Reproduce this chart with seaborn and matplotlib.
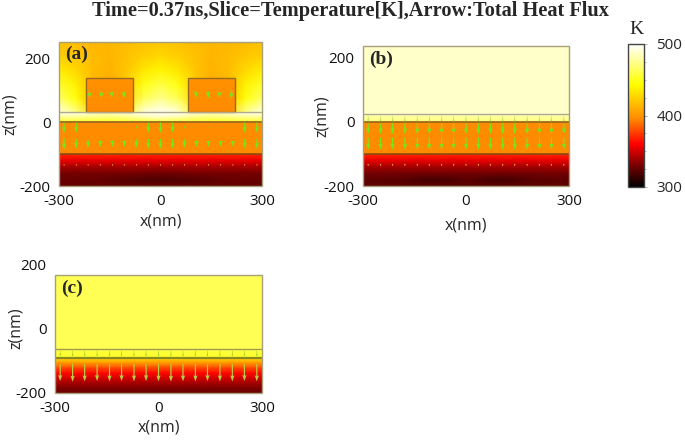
import numpy as np
import pandas as pd
import seaborn as sns
import matplotlib
matplotlib.use('Agg')
import matplotlib.pyplot as plt
from matplotlib.colors import LinearSegmentedColormap
from matplotlib.patches import Rectangle

W, H = 685, 443

# temperature [K], rows run top to bottom
a_air = [
    [418, 416, 414, 414, 416, 418, 420, 418, 416, 414, 414, 416, 418],
    [424, 420, 416, 414, 418, 424, 428, 424, 418, 414, 416, 420, 424],
    [436, 428, 416, 412, 420, 434, 440, 434, 420, 412, 416, 428, 436],
    [452, 438, 414, 408, 424, 448, 458, 448, 424, 408, 414, 438, 452],
    [466, 446, 412, 404, 430, 462, 474, 462, 430, 404, 412, 446, 466],
    [494, 474, 430, 420, 456, 492, 499, 492, 456, 420, 430, 474, 494],
]
a_gap = [
    [496, 494, 490, 488, 492, 498, 500, 498, 492, 488, 490, 494, 496],
    [478, 476, 472, 470, 474, 482, 486, 482, 474, 470, 472, 476, 478],
    [452, 452, 450, 450, 452, 454, 456, 454, 452, 450, 450, 452, 452],
]
pad = [[398, 398], [396, 396]]
etch = [[396, 396], [396, 396]]
sub_a = [
    [370, 370, 370, 370, 370, 370, 370],
    [356, 356, 356, 356, 356, 356, 356],
    [340, 340, 340, 340, 340, 340, 340],
    [330, 330, 330, 328, 330, 330, 330],
    [326, 326, 322, 320, 322, 326, 326],
    [325, 325, 325, 325, 325, 325, 325],
]
b_air = [[488, 488], [488, 488]]
b_gap = [[484, 484], [470, 470]]
sub_b = [
    [370, 370, 370, 370, 370, 370, 370],
    [356, 356, 356, 356, 356, 356, 356],
    [340, 340, 340, 340, 340, 340, 340],
    [329, 329, 329, 329, 329, 329, 329],
    [324, 323, 317, 323, 317, 323, 324],
    [324, 324, 324, 324, 324, 324, 324],
]
c_air = [[462, 462], [462, 462]]
c_gap = [[458, 458], [452, 452]]
sub_c = [
    [428, 428], [400, 400], [378, 378], [362, 362],
    [350, 350], [340, 340], [332, 332], [327, 327],
]

# total heat flux arrows, x position and downward length per row [nm]
arrow_x = [-285, -249, -214, -178, -142, -107, -71, -36, 0, 36, 71, 107, 142, 178, 214, 249, 285]
a_etch_top = [32, 32, 4, 4, 4, 4, 8, 32, 34, 32, 8, 4, 4, 4, 4, 32, 32]
a_etch_low = [36, 30, 24, 20, 20, 20, 26, 30, 32, 32, 26, 20, 18, 18, 18, 30, 32]
a_sub = [6, 6, 6, 6, 6, 6, 6, 6, 6, 6, 6, 6, 6, 6, 6, 6, 6]
pad_x = [-210, -175, -144, -108, 105, 141, 174, 209]
pad_len = [24, 22, 20, 22, 20, 22, 20, 26]
b_top = [18, 18, 18, 18, 18, 18, 18, 18, 18, 18, 18, 18, 18, 18, 18, 18, 18]
b_up = [34, 34, 34, 34, 34, 34, 34, 34, 34, 34, 34, 34, 34, 34, 34, 34, 34]
b_low = [38, 38, 38, 38, 38, 38, 38, 38, 38, 38, 38, 38, 38, 38, 38, 38, 38]
b_sub = [7, 7, 7, 7, 7, 7, 7, 7, 7, 7, 7, 7, 7, 7, 7, 7, 7]
c_top = [18, 18, 18, 18, 18, 18, 18, 18, 18, 18, 18, 18, 18, 18, 18, 18, 18]
c_low = [52, 56, 54, 52, 54, 52, 54, 52, 54, 56, 54, 54, 52, 54, 54, 52, 54]

temp_colors = [(0, '#000000'), (0.15, '#780000'), (0.3, '#ff0000'), (0.48, '#ff8c00'),
               (0.72, '#ffff00'), (1, '#ffffff')]
temp_cmap = LinearSegmentedColormap.from_list('temp', temp_colors)

sns.set_style('white')
plt.rcParams['font.family'] = ['Open Sans', 'DejaVu Sans']
plt.rcParams['axes.unicode_minus'] = False
serif = 'Liberation Serif'


def axes_px(x0, y0, x1, y1):
    return [x0 / W, 1 - y1 / H, (x1 - x0) / W, (y1 - y0) / H]


def draw_layer(ax, values, x0, x1, z0, z1, zorder=5):
    inset = ax.inset_axes([x0, z0, x1 - x0, z1 - z0], transform=ax.transData, zorder=zorder)
    table = pd.DataFrame(values)
    sns.heatmap(table, ax=inset, cmap=temp_cmap, vmin=300, vmax=500, cbar=False,
                xticklabels=False, yticklabels=False, shading='gouraud')
    inset.set_xlim(0, table.shape[1] - 1)
    inset.set_ylim(table.shape[0] - 1, 0)
    inset.set_axis_off()


def draw_arrows(ax, xs, z, lengths, width=1.2, color='#74e620'):
    ax.quiver(xs, [z] * len(xs), [0] * len(xs), [-v for v in lengths], angles='xy',
              scale_units='xy', scale=1, color=color, width=width, units='dots',
              headwidth=3.5, headlength=5.0, headaxislength=4.5, pivot='middle', zorder=7)


def setup_panel(rect, ylim, box_top, label, xlabel_y, ylabel_x):
    ax = fig.add_axes(axes_px(*rect))
    ax.set_xlim(-300, 300)
    ax.set_ylim(*ylim)
    ax.set_xticks([-300, 0, 300])
    ax.set_yticks([-200, 0, 200])
    ax.set_yticklabels(['-200', '0', '200'])
    ax.tick_params(length=0, labelsize=11, pad=6, colors='#111111')
    for s in ax.spines.values():
        s.set_visible(False)
    ax.patch.set_visible(False)
    ax.add_patch(Rectangle((-300, ylim[0]), 600, box_top - ylim[0], fill=False,
                           ec='#a8a078', lw=1.0, zorder=8, clip_on=False))
    ax.text(-282, box_top - 40, label, family=serif, weight='bold', fontsize=14,
            va='center', ha='left', zorder=9)
    fig.text((rect[0] + rect[2]) / 2 / W, 1 - xlabel_y / H, 'x(nm)', ha='center', va='center', fontsize=11.5)
    fig.text(ylabel_x / W, 1 - (rect[1] + rect[3]) / 2 / H, 'z(nm)', rotation=90, ha='center', va='center', fontsize=11.5)
    return ax


def hline(ax, z, color, lw):
    ax.plot([-300, 300], [z, z], color=color, lw=lw, zorder=6, solid_capstyle='butt')


fig = plt.figure(figsize=(W / 100, H / 100), dpi=100)

# panel a
ax = setup_panel((59, 42, 262, 186), (-200, 250), 250, '(a)', 222, 10)
draw_layer(ax, a_air, -300, 300, 30, 250)
draw_layer(ax, a_gap, -300, 300, 0, 30)
draw_layer(ax, etch, -300, 300, -100, 0)
draw_layer(ax, sub_a, -300, 300, -200, -100)
for p0, p1 in [(-220, -80), (80, 220)]:
    draw_layer(ax, pad, p0, p1, 30, 137, zorder=5.5)
    ax.add_patch(Rectangle((p0, 30), p1 - p0, 107, fill=False, ec='#9a6a20', lw=1.0, zorder=6))
hline(ax, 30, '#b0a890', 1.0)
hline(ax, 0, '#9a6a20', 1.3)
hline(ax, -100, '#8a4a10', 1.2)
draw_arrows(ax, arrow_x, -18, a_etch_top)
draw_arrows(ax, arrow_x, -68, a_etch_low)
draw_arrows(ax, arrow_x, -135, a_sub, 0.5, '#e8c040')
draw_arrows(ax, pad_x, 85, pad_len)

# panel b
ax = setup_panel((363, 46, 569, 186), (-200, 236), 236, '(b)', 225, 322)
draw_layer(ax, b_air, -300, 300, 24, 236)
draw_layer(ax, b_gap, -300, 300, 0, 24)
draw_layer(ax, etch, -300, 300, -100, 0)
draw_layer(ax, sub_b, -300, 300, -200, -100)
hline(ax, 24, '#b0a890', 1.0)
hline(ax, 0, '#9a6a20', 1.3)
hline(ax, -100, '#8a4a10', 1.2)
draw_arrows(ax, arrow_x, 8, b_top, 0.5, '#a8d040')
draw_arrows(ax, arrow_x, -22, b_up)
draw_arrows(ax, arrow_x, -68, b_low)
draw_arrows(ax, arrow_x, -135, b_sub, 0.5, '#e8c040')

# panel c
ax = setup_panel((55, 264, 262, 393), (-200, 200), 165, '(c)', 428, 16)
draw_layer(ax, c_air, -300, 300, -65, 165)
draw_layer(ax, c_gap, -300, 300, -92, -65)
draw_layer(ax, sub_c, -300, 300, -200, -92)
hline(ax, -65, '#a09a50', 1.0)
hline(ax, -92, '#8a8a20', 1.6)
draw_arrows(ax, arrow_x, -78, c_top, 0.5, '#90c830')
draw_arrows(ax, arrow_x, -137, c_low, 1.2, '#b8d040')

# colour bar
cax = fig.add_axes(axes_px(628, 44, 644, 187))
holder = fig.add_axes([0, 0, 0.01, 0.01])
sns.heatmap(pd.DataFrame(etch), ax=holder, cmap=temp_cmap, vmin=300, vmax=500, cbar_ax=cax,
            xticklabels=False, yticklabels=False)
holder.set_visible(False)
cax.set_yticks([300, 400, 500])
cax.set_yticks([325, 350, 375, 425, 450, 475], minor=True)
cax.tick_params(which='major', length=2, width=0.5, labelsize=11, pad=7, color='#888888')
cax.tick_params(which='minor', length=1.5, width=0.5, color='#999999', right=True)
holder.collections[0].colorbar.outline.set_edgecolor('#444444')
holder.collections[0].colorbar.outline.set_visible(True)
holder.collections[0].colorbar.outline.set_linewidth(1.0)
fig.text(636 / W, 1 - 29 / H, 'K', family=serif, fontsize=14, ha='center', va='center')

fig.text(350 / W, 1 - 11 / H, 'Time=0.37ns,Slice=Temperature[K],Arrow:Total Heat Flux',
         family=serif, weight='bold', fontsize=14.7, ha='center', va='center')

fig.savefig('out.png', dpi=100)
